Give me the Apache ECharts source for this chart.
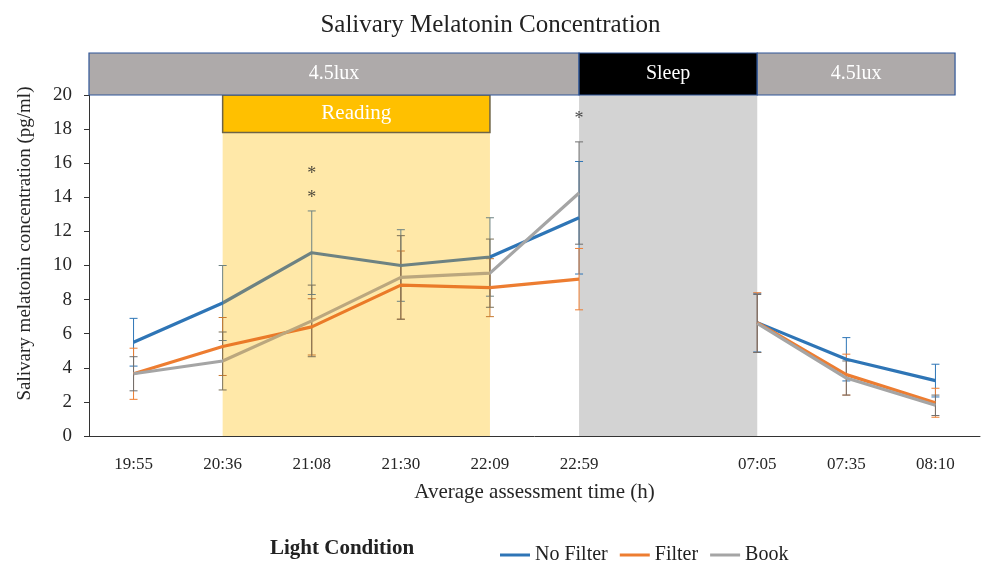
<!DOCTYPE html>
<html><head><meta charset="utf-8">
<script src="https://cdn.jsdelivr.net/npm/echarts@6/dist/echarts.min.js"></script>
<style>html,body{margin:0;padding:0;background:#fff}#c{width:981px;height:565px}</style>
</head><body><div id="c"></div>
<script>
// ---- data ----
const categories = ['19:55','20:36','21:08','21:30','22:09','22:59','','07:05','07:35','08:10'];
const noFilter   = [5.5, 7.8, 10.75, 10.0, 10.5, 12.8, null, 6.65, 4.5, 3.25];
const noFilterSD = [1.4, 2.2, 2.45, 2.1, 2.3, 3.3, null, 1.72, 1.27, 0.96];
const filter     = [3.65, 5.25, 6.4, 8.85, 8.7, 9.2, null, 6.65, 3.6, 1.95];
const filterSD   = [1.5, 1.7, 1.65, 2.0, 1.7, 1.8, null, 1.75, 1.2, 0.85];
const book       = [3.65, 4.4, 6.75, 9.3, 9.55, 14.25, null, 6.6, 3.4, 1.8];
const bookSD     = [1.0, 1.7, 2.1, 2.45, 2.0, 3.0, null, 1.7, 1.0, 0.6];
const seriesNames = ['No Filter', 'Filter', 'Book'];
const yTicks = [0, 2, 4, 6, 8, 10, 12, 14, 16, 18, 20];
const starMarks = [['21:08', 15.35], ['21:08', 13.95], ['22:59', 18.55]];
const readingSpan = ['20:36', '22:09'];
const sleepSpan = ['22:59', '07:05'];
const readingBoxBottom = 17.8;

// ---- styles ----
const FONT = '"Liberation Serif", "DejaVu Serif", serif';
const baseColors = ['#2E75B6', '#ED7D31', '#A5A5A5'];
const tintColors = ['#6D8282', '#EA7A28', '#BBA77E'];
const barColors = ['#2E75B6', '#ED7D31', '#6F6F6F'];
const barTint = ['#6D8282', '#C8782E', '#7A7058'];
const readStart = categories.indexOf(readingSpan[0]);
const readEnd = categories.indexOf(readingSpan[1]);

const chart = echarts.init(document.getElementById('c'));

function errData(vals, sds) {
  const out = [];
  vals.forEach((v, i) => { if (v != null) out.push([i, v - sds[i], v + sds[i]]); });
  return out;
}
function errSeries(idx, vals, sds) {
  return {
    type: 'custom', name: seriesNames[idx] + ' SD', z: 4,
    data: errData(vals, sds),
    encode: { x: 0, y: [1, 2] },
    silent: true,
    renderItem: function (params, api) {
      const i = api.value(0);
      const lo = api.coord([i, api.value(1)]);
      const hi = api.coord([i, api.value(2)]);
      const inRead = i >= readStart && i <= readEnd;
      const col = inRead ? barTint[idx] : barColors[idx];
      const w = 4;
      const st = { stroke: col, lineWidth: 1 };
      return {
        type: 'group',
        children: [
          { type: 'line', shape: { x1: lo[0], y1: lo[1], x2: hi[0], y2: hi[1] }, style: st },
          { type: 'line', shape: { x1: lo[0] - w, y1: lo[1], x2: lo[0] + w, y2: lo[1] }, style: st },
          { type: 'line', shape: { x1: hi[0] - w, y1: hi[1], x2: hi[0] + w, y2: hi[1] }, style: st }
        ]
      };
    }
  };
}
function lineSeries(idx, vals) {
  return {
    type: 'line', name: seriesNames[idx], data: vals, z: 5,
    showSymbol: false, symbol: 'none', connectNulls: false,
    itemStyle: { color: baseColors[idx] },
    lineStyle: { width: 3.2 },
    emphasis: { disabled: true }
  };
}

const option = {
  animation: false,
  backgroundColor: '#fff',
  title: {
    text: 'Salivary Melatonin Concentration', left: 'center', top: 8,
    textStyle: { fontFamily: FONT, fontSize: 25, fontWeight: 'normal', color: '#222' }
  },
  legend: {
    data: seriesNames.map((n, k) => ({ name: n, itemStyle: { color: baseColors[k] } })),
    left: 495, top: 540, icon: 'rect', itemWidth: 30, itemHeight: 3,
    itemGap: 12, textStyle: { fontFamily: FONT, fontSize: 20, color: '#222' }
  },
  grid: { left: 89, right: 1, top: 95, bottom: 129, containLabel: false, outerBoundsMode: 'none' },
  visualMap: [0, 1, 2].map(k => ({
    type: 'piecewise', show: false, dimension: 0, seriesIndex: k + 1,
    pieces: [
      { lt: readStart, color: baseColors[k] },
      { gte: readStart, lte: readEnd, color: tintColors[k] },
      { gt: readEnd, color: baseColors[k] }
    ]
  })),
  xAxis: {
    type: 'category', data: categories, boundaryGap: true,
    axisLine: { lineStyle: { color: '#333', width: 1 } },
    axisTick: { alignWithLabel: true, length: 6, interval: (i, v) => v !== '', lineStyle: { color: '#333' } },
    axisLabel: { interval: 0, margin: 20, fontFamily: FONT, fontSize: 17, color: '#262626' },
    splitLine: { show: false },
    name: 'Average assessment time (h)', nameLocation: 'middle', nameGap: 46,
    nameTextStyle: { fontFamily: FONT, fontSize: 21, color: '#262626' }
  },
  yAxis: {
    type: 'value', min: yTicks[0], max: yTicks[yTicks.length - 1], interval: yTicks[1] - yTicks[0],
    axisLine: { show: true, lineStyle: { color: '#333', width: 1 } },
    axisTick: { show: true, length: 5, lineStyle: { color: '#333' } },
    axisLabel: { margin: 17, fontFamily: FONT, fontSize: 19, color: '#262626' },
    splitLine: { show: false }
  },
  series: [
    {
      type: 'line', name: 'areas', data: [], z: 1, silent: true,
      markArea: {
        silent: true,
        data: [
          [{ xAxis: readingSpan[0], yAxis: 0, itemStyle: { color: '#FFE8A8' } },
           { xAxis: readingSpan[1], yAxis: readingBoxBottom }],
          [{ xAxis: readingSpan[0], yAxis: readingBoxBottom, name: 'Reading',
             itemStyle: { color: '#FFC000', borderColor: '#6E6447', borderWidth: 1.5 },
             label: { show: true, position: 'inside', color: '#fff', fontFamily: FONT, fontSize: 21 } },
           { xAxis: readingSpan[1], yAxis: yTicks[yTicks.length - 1] }],
          [{ xAxis: sleepSpan[0], yAxis: 0, itemStyle: { color: '#D3D3D3' } },
           { xAxis: sleepSpan[1], yAxis: yTicks[yTicks.length - 1] }]
        ],
        label: { show: false }
      }
    },
    lineSeries(0, noFilter),
    lineSeries(1, filter),
    lineSeries(2, book),
    errSeries(0, noFilter, noFilterSD),
    errSeries(1, filter, filterSD),
    errSeries(2, book, bookSD),
    {
      type: 'scatter', name: 'sig', data: starMarks, symbolSize: 1, z: 6, silent: true,
      itemStyle: { color: 'rgba(0,0,0,0)' },
      label: { show: true, position: 'inside', formatter: '*', fontSize: 18, color: '#222', fontFamily: FONT }
    }
  ]
};
chart.setOption(option);

// banners above the plot, positioned from the category axis
const px = c => chart.convertToPixel({ xAxisIndex: 0 }, c);
const py = v => chart.convertToPixel({ yAxisIndex: 0 }, v);
const band = px(categories[1]) - px(categories[0]);
const left = px(categories[0]) - band / 2;
const sleepL = px(sleepSpan[0]);
const sleepR = px(sleepSpan[1]);
const rightEnd = px(categories[categories.length - 1]) + band * 0.22;
const yTop20 = py(yTicks[yTicks.length - 1]);
const bannerH = 42;
function banner(x0, x1, fill, txt) {
  return [
    {
      type: 'rect', shape: { x: x0, y: yTop20 - bannerH, width: x1 - x0, height: bannerH },
      style: { fill: fill, stroke: '#2F5597', lineWidth: 1.2 }, z: 10
    },
    {
      type: 'text', x: (x0 + x1) / 2, y: yTop20 - bannerH / 2, z: 11,
      style: { text: txt, fill: '#fff', fontSize: 20, fontFamily: FONT, align: 'center', verticalAlign: 'middle',
               textAlign: 'center', textVerticalAlign: 'middle' }
    }
  ];
}
chart.setOption({
  graphic: [].concat(
    banner(left, sleepL, '#AEAAAA', '4.5lux'),
    banner(sleepL, sleepR, '#000000', 'Sleep'),
    banner(sleepR, rightEnd, '#AEAAAA', '4.5lux'),
    [{
      type: 'text', x: 25, y: (py(yTicks[0]) + yTop20) / 2 - 22, rotation: Math.PI / 2,
      style: { text: 'Salivary melatonin concentration (pg/ml)', fontSize: 19, fontFamily: FONT, fill: '#262626',
               align: 'center', verticalAlign: 'middle', textAlign: 'center', textVerticalAlign: 'middle' }
    },
    {
      type: 'text', left: 270, top: 538,
      style: { text: 'Light Condition', fontSize: 21, fontWeight: 'bold', fontFamily: FONT, fill: '#222' }
    }]
  )
});
</script>
</body></html>
